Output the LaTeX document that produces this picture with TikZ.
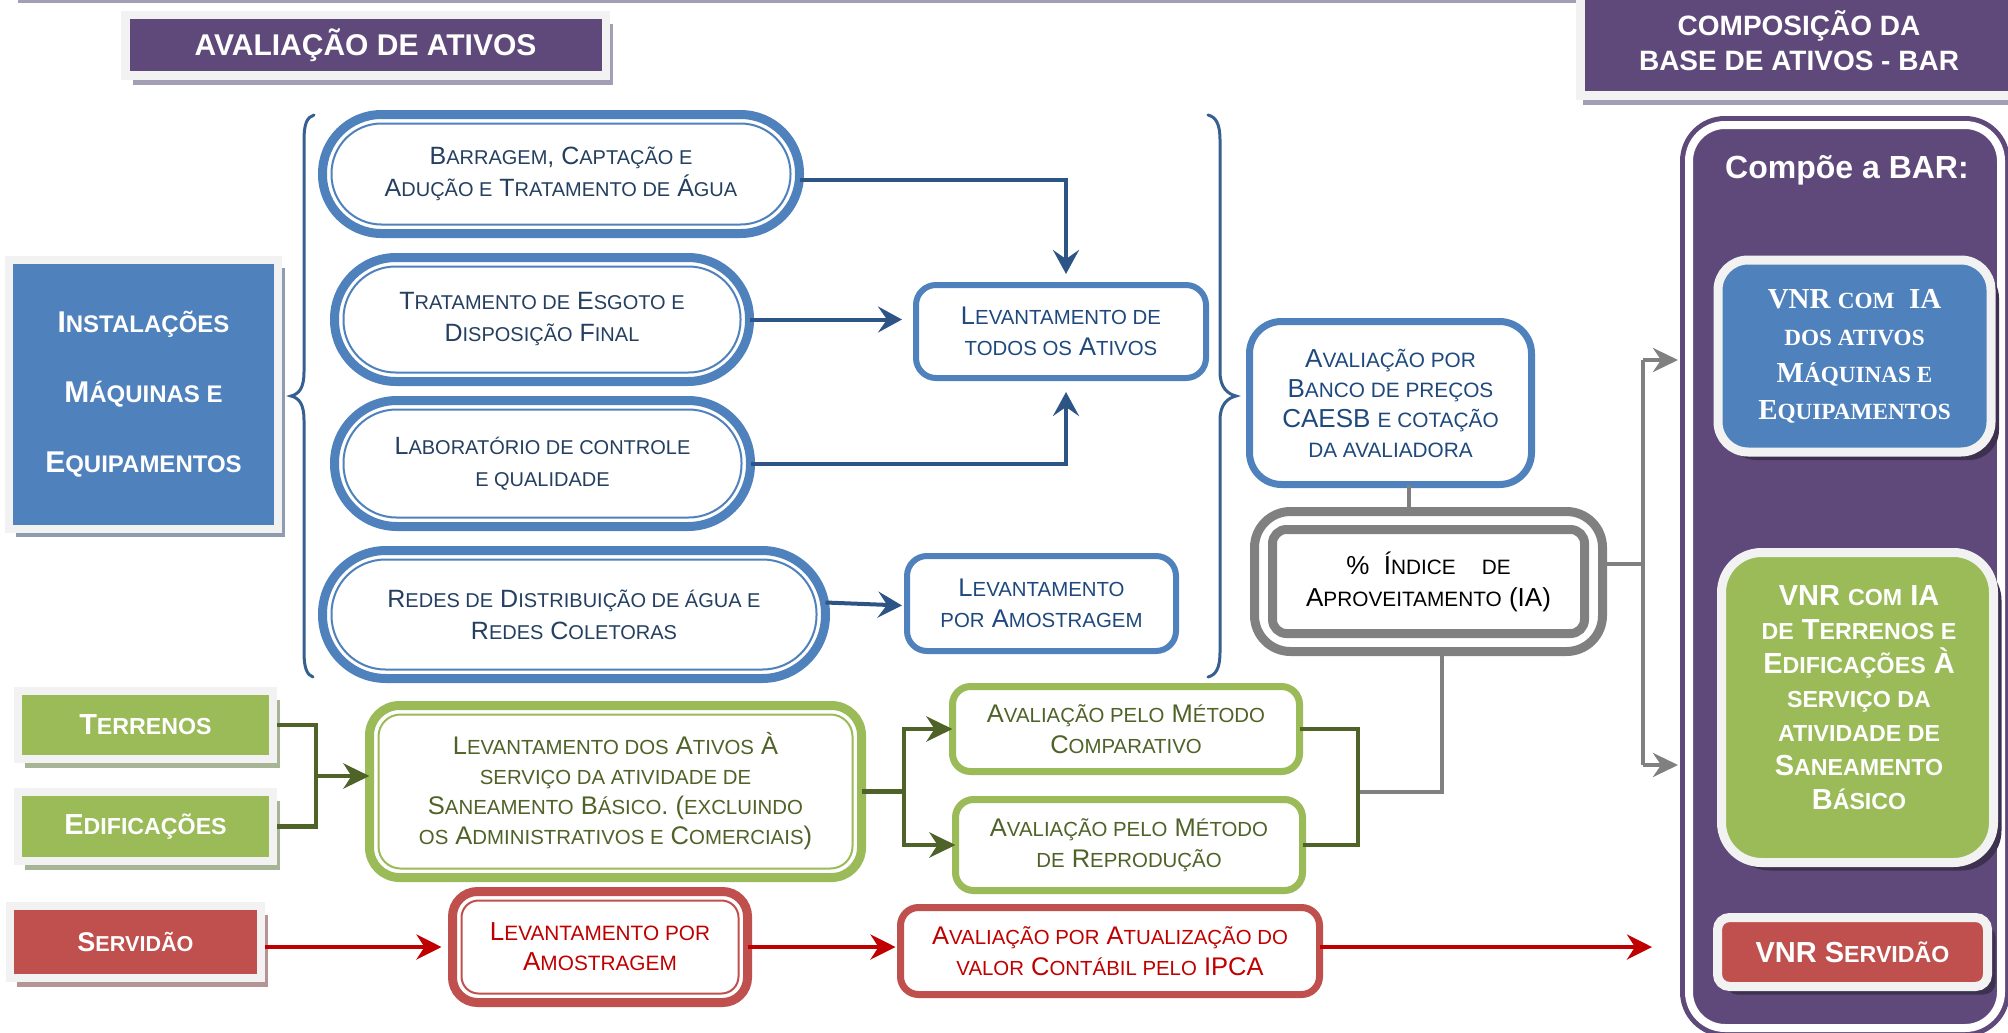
\documentclass[tikz,border=0pt]{standalone}
\usepackage{fontspec}
\setmainfont{Liberation Sans}
\newfontfamily\serifb{Liberation Serif}
\usetikzlibrary{arrows.meta,calc,shadows}
\makeatletter
\newcommand\sm[1]{{\fontsize{\fpeval{0.8*\f@size}}{\f@baselineskip}\selectfont #1}}
\makeatother
\newcommand\fs[2]{\fontsize{#1}{#2}\selectfont}
\newcommand\innerline[5]{\draw[#4, line width=#5, rounded corners=#3] ($(#1.north west)+(#2,#2)$) rectangle ($(#1.south east)+(-#2,-#2)$);}
\definecolor{cpurple}{HTML}{5F497A}
\definecolor{cblue}{HTML}{4F81BD}
\definecolor{cgreen}{HTML}{9BBB59}
\definecolor{cred}{HTML}{C0504D}
\definecolor{cframe}{HTML}{F2F2F2}
\definecolor{tblue}{HTML}{243F60}
\definecolor{tblue2}{HTML}{1F497D}
\definecolor{lblue}{HTML}{2C5586}
\definecolor{cbrace}{HTML}{36608F}
\definecolor{tgreen}{HTML}{4F6228}
\definecolor{tred}{HTML}{C00000}
\definecolor{cgray}{HTML}{808080}
\definecolor{shpurple}{HTML}{A49EB4}
\definecolor{shblue}{HTML}{8F9BB0}
\definecolor{shgreen}{HTML}{A7B596}
\definecolor{shred}{HTML}{B49494}
\definecolor{shdark}{HTML}{3E3150}
\begin{document}
\begin{tikzpicture}[x=1pt,y=-1pt,
  base/.style={rectangle, outer sep=0pt, inner sep=0pt, align=center},
  pill/.style={base, draw=cblue, fill=white, line width=9pt, text=tblue, font=\fs{25}{32}},
  bbox/.style={base, draw=cblue, fill=white, line width=6pt, rounded corners=20pt, text=tblue2, font=\fs{25.5}{31}},
  gbox/.style={base, draw=cgreen, fill=white, line width=7pt, rounded corners=18pt, text=tgreen, font=\fs{25.5}{31}},
  rbox/.style={base, draw=cred, fill=white, line width=7pt, rounded corners=18pt, text=tred, font=\fs{25.5}{31}},
  catbox/.style={base, draw=cframe, line width=8pt, text=white, font=\bfseries\fs{29}{35}},
  vnr/.style={base, draw=cframe, line width=9pt, text=white, font=\bfseries\fs{29}{34},
    drop shadow={shadow xshift=8pt, shadow yshift=-8pt, fill=shdark, opacity=1}},
  barrow/.style={lblue, line width=4pt, -{Stealth[length=24pt,width=26pt,inset=9pt]}},
  gline/.style={cgray, line width=4.5pt},
  garrow/.style={gline, -{Stealth[length=25pt,width=24pt,inset=8pt]}},
  gline2/.style={tgreen, line width=4.5pt},
  garrow2/.style={gline2, -{Stealth[length=26pt,width=25pt,inset=8pt]}},
  rarrow/.style={tred, line width=4pt, -{Stealth[length=25pt,width=25pt,inset=8pt]}},
  bracestyle/.style={cbrace, line width=3pt, line cap=round}
]
\useasboundingbox (0,0) rectangle (2008,1033);

% top rule
\draw[shpurple, line width=3pt] (18,1.5) -- (1583,1.5);

% titles
\node[base, fill=cpurple, draw=cframe, line width=8.5pt, minimum width=480.5pt, minimum height=60.5pt,
  drop shadow={shadow xshift=7.25pt, shadow yshift=-9.25pt, fill=shpurple, opacity=1},
  text=white, font=\bfseries\fs{30}{36}] (t1) at (365.5,45.5) {AVALIAÇÃO DE ATIVOS};

\node[base, fill=cpurple, draw=cframe, line width=9pt, minimum width=449.5pt, minimum height=115.5pt,
  drop shadow={shadow xshift=2pt, shadow yshift=-9.5pt, fill=shpurple, opacity=1}] (t2box) at (1805.25,37.75) {};
\node[text=white, font=\bfseries\fs{28}{35}, align=center, inner sep=0pt] (t2) at (1799,41) {COMPOSIÇÃO DA\\BASE DE ATIVOS - BAR};

% right panel
\node[base, fill=cpurple, minimum width=330pt, minimum height=921pt, rounded corners=45pt] (panel) at (1845,576.5) {};
\innerline{panel}{9}{36}{white}{8pt}
\node[text=white, font=\bfseries\fs{32}{38}, inner sep=0pt] (compoe) at (1847,170) {Compõe a BAR:};

\node[vnr, fill=cblue, minimum width=273pt, minimum height=192pt, rounded corners=30pt, font=\serifb\bfseries\fs{29}{37}] (vnrb) at (1854.5,356)
  {VNR \sm{COM}\ \ IA\\\sm{DOS ATIVOS}\\M\sm{ÁQUINAS E}\\E\sm{QUIPAMENTOS}};
\node[vnr, fill=cgreen, minimum width=272pt, minimum height=310pt, rounded corners=40pt] (vnrg) at (1857.5,707.5) {};
\node[text=white, font=\bfseries\fs{29}{34}, align=center, inner sep=0pt] (vnrgt) at (1859,698)
  {VNR \sm{COM} IA\\\sm{DE} T\sm{ERRENOS E}\\E\sm{DIFICAÇÕES} À\\\sm{SERVIÇO DA}\\\sm{ATIVIDADE DE}\\S\sm{ANEAMENTO}\\B\sm{ÁSICO}};
\node[vnr, fill=cred, minimum width=270pt, minimum height=69pt, rounded corners=12pt] (vnrs) at (1852.5,952) {VNR S\sm{ERVIDÃO}};

% left categories
\node[catbox, fill=cblue, minimum width=269pt, minimum height=269pt, font=\bfseries\fs{30}{70},
  drop shadow={shadow xshift=7pt, shadow yshift=-8pt, fill=shblue, opacity=1}] (inst) at (143.5,394.5)
  {I\sm{NSTALAÇÕES}\\M\sm{ÁQUINAS E}\\E\sm{QUIPAMENTOS}};
\node[catbox, fill=cgreen, minimum width=255pt, minimum height=68pt,
  drop shadow={shadow xshift=7pt, shadow yshift=-9pt, fill=shgreen, opacity=1}] (terr) at (145.5,725) {T\sm{ERRENOS}};
\node[catbox, fill=cgreen, minimum width=255pt, minimum height=69pt,
  drop shadow={shadow xshift=7pt, shadow yshift=-9pt, fill=shgreen, opacity=1}] (edif) at (145.5,826.5) {E\sm{DIFICAÇÕES}};
\node[catbox, fill=cred, minimum width=251pt, minimum height=72pt, font=\bfseries\fs{27}{33},
  drop shadow={shadow xshift=7pt, shadow yshift=-9pt, fill=shred, opacity=1}] (serv) at (135.5,942) {S\sm{ERVIDÃO}};

% braces
\draw[bracestyle] (314,115) .. controls (307,117) and (304,124) .. (304,140) -- (304,372)
  .. controls (304,388) and (299,394) .. (291,396) .. controls (299,398) and (304,404) .. (304,420)
  -- (304,652) .. controls (304,668) and (307,675) .. (313,677);
\draw[bracestyle] (1208,115) .. controls (1216,117) and (1220,124) .. (1220,140) -- (1220,372)
  .. controls (1220,388) and (1228,394) .. (1236,396) .. controls (1228,398) and (1220,404) .. (1220,420)
  -- (1220,652) .. controls (1220,668) and (1216,675) .. (1208,677);

% pills
\node[pill, minimum width=477pt, minimum height=119pt, rounded corners=59pt] (p1) at (561,174)
  {B\sm{ARRAGEM}, C\sm{APTAÇÃO E}\\A\sm{DUÇÃO E} T\sm{RATAMENTO DE} Á\sm{GUA}};
\innerline{p1}{9}{50}{cblue}{2pt}
\node[pill, minimum width=415pt, minimum height=124pt, rounded corners=61.5pt] (p2) at (542,319.5)
  {T\sm{RATAMENTO DE} E\sm{SGOTO E}\\D\sm{ISPOSIÇÃO} F\sm{INAL}};
\innerline{p2}{9}{52}{cblue}{2pt}
\node[pill, minimum width=416pt, minimum height=126pt, rounded corners=62.5pt] (p3) at (542.5,463.5)
  {L\sm{ABORATÓRIO DE CONTROLE}\\\sm{E QUALIDADE}};
\innerline{p3}{9}{53}{cblue}{2pt}
\node[pill, minimum width=503pt, minimum height=128pt, rounded corners=63.5pt] (p4) at (574,614.5)
  {R\sm{EDES DE} D\sm{ISTRIBUIÇÃO DE ÁGUA E}\\R\sm{EDES} C\sm{OLETORAS}};
\innerline{p4}{9}{54}{cblue}{2pt}

% blue boxes
\node[bbox, minimum width=290pt, minimum height=93pt] (lev1) at (1061,331.5) {L\sm{EVANTAMENTO DE}\\\sm{TODOS OS} A\sm{TIVOS}};
\node[bbox, minimum width=269pt, minimum height=95pt] (lev2) at (1041.5,603.5) {L\sm{EVANTAMENTO}\\\sm{POR} A\sm{MOSTRAGEM}};
\node[bbox, line width=7pt, minimum width=282pt, minimum height=163pt, rounded corners=32pt, font=\fs{26}{30}] (aval) at (1390.5,403)
  {A\sm{VALIAÇÃO POR}\\B\sm{ANCO DE PREÇOS}\\CAESB \sm{E COTAÇÃO}\\\sm{DA AVALIADORA}};
\node[base, draw=cgray, fill=white, line width=9pt, minimum width=348pt, minimum height=140pt, rounded corners=36pt, text=black, font=\fs{26}{32}] (ind) at (1428.5,581.5)
  {\% \ Í\sm{NDICE}\quad\sm{DE}\\A\sm{PROVEITAMENTO} (IA)};
\innerline{ind}{18}{14}{cgray}{9pt}

% green boxes
\node[gbox, line width=9pt, minimum width=492pt, minimum height=172pt, rounded corners=30pt, font=\fs{25.5}{30}] (gbig) at (615.5,791.5)
  {L\sm{EVANTAMENTO DOS} A\sm{TIVOS} À\\\sm{SERVIÇO DA ATIVIDADE DE}\\S\sm{ANEAMENTO} B\sm{ÁSICO}. (\sm{EXCLUINDO}\\\sm{OS} A\sm{DMINISTRATIVOS E} C\sm{OMERCIAIS})};
\innerline{gbig}{9}{22}{cgreen}{2pt}
\node[gbox, minimum width=347pt, minimum height=85pt] (comp) at (1126,729) {A\sm{VALIAÇÃO PELO} M\sm{ÉTODO}\\C\sm{OMPARATIVO}};
\node[gbox, minimum width=347pt, minimum height=91pt] (repr) at (1129,845) {A\sm{VALIAÇÃO PELO} M\sm{ÉTODO}\\\sm{DE} R\sm{EPRODUÇÃO}};

% red boxes
\node[rbox, line width=9pt, minimum width=295pt, minimum height=111pt, rounded corners=25pt, font=\fs{26}{30}] (red1) at (600,947) {L\sm{EVANTAMENTO POR}\\A\sm{MOSTRAGEM}};
\innerline{red1}{9}{17}{cred}{2pt}
\node[rbox, minimum width=419pt, minimum height=87pt] (red2) at (1110,951) {A\sm{VALIAÇÃO POR} A\sm{TUALIZAÇÃO DO}\\\sm{VALOR} C\sm{ONTÁBIL PELO} IPCA};

% blue connectors
\draw[barrow] ($(p1.east)+(0,6)$) -| ($(lev1.north)+(5,-11)$);
\draw[barrow] (p2.east) -- ($(p2.east -| lev1.west)+(-14,0)$);
\draw[barrow] (p3.east) -| ($(lev1.south)+(5,14)$);
\draw[barrow] ($(p4.east)+(0,-12)$) -- ($(lev2.west)+(-5,2)$);

% gray connectors
\coordinate (g1) at ($(aval.south)+(18.5,0)$);
\draw[gline] (g1) -- (g1 |- ind.north);
\coordinate (g2) at ($(ind.east)+(0,-17.5)$);
\coordinate (gt) at (1643,360);
\coordinate (gb) at (1643,765);
\draw[gline] (g2) -- (g2 -| gt);
\draw[gline] (gt) -- (gb);
\draw[garrow] (gt) -- ($(gt -| panel.west)+(-2,0)$);
\draw[garrow] (gb) -- ($(gb -| panel.west)+(-2,0)$);
\coordinate (g3) at ($(ind.south)+(13.5,0)$);
\coordinate (gg) at (1358,792);
\draw[gline] (g3) |- (gg);

% green connectors
\coordinate (gx) at (316,776);
\draw[gline2, shorten <=4pt] (terr.east) -| (gx);
\draw[gline2, shorten <=4pt] (edif.east) -| (gx);
\draw[garrow2] (gx) -- (gx -| gbig.west);
\coordinate (gy) at (904,791.5);
\draw[gline2] (gbig.east) -- (gy);
\draw[garrow2] (gy) |- (comp.west);
\draw[garrow2] (gy) |- (repr.west);
\draw[gline2] (comp.east) -| (gg);
\draw[gline2] (repr.east) -| (gg);

% red connectors
\draw[rarrow, shorten <=4pt, shorten >=11pt] (serv.east |- red1.west) -- (red1.west);
\draw[rarrow, shorten >=5pt] (red1.east) -- (red1.east -| red2.west);
\draw[rarrow] (red1.east -| red2.east) -- ($(red1.east -| panel.west)+(-28,0)$);
\end{tikzpicture}
\end{document}
